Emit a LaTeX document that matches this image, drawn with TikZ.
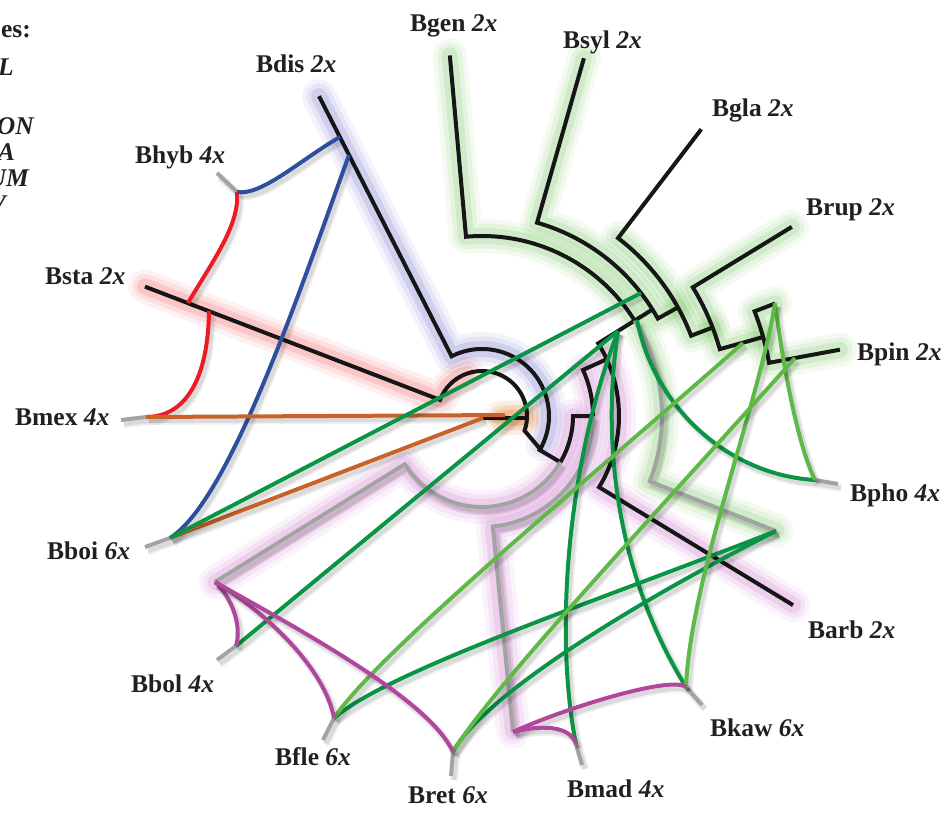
\documentclass[tikz,border=0pt]{standalone}
\usepackage{fontspec}
\setmainfont{Liberation Serif}
\usetikzlibrary{calc}
\definecolor{tblack}{HTML}{161616}
\definecolor{tgray}{HTML}{A3A3A3}
\definecolor{hred}{HTML}{EC1C24}
\definecolor{hblue}{HTML}{2D4F9E}
\definecolor{horange}{HTML}{C8622A}
\definecolor{hdgreen}{HTML}{0A9446}
\definecolor{hlgreen}{HTML}{5FB946}
\definecolor{hpurple}{HTML}{B0479C}
\definecolor{gwgreen}{HTML}{5DBB46}
\definecolor{gwblue}{HTML}{5A5AC0}
\definecolor{gwred}{HTML}{F03C3C}
\definecolor{gwpurple}{HTML}{C05AC0}
\definecolor{gworange}{HTML}{E8761E}
\definecolor{txt}{HTML}{231F20}
% soft halo behind a clade: three widening translucent strokes
\newcommand{\glowpath}[2]{%
  \foreach \gw/\go in {34/0.07,25/0.10,16/0.15}{%
    \draw[draw=#1, line width=\gw pt, draw opacity=\go, line cap=round, line join=round] #2;}}
\begin{document}
\begin{tikzpicture}[x=1pt,y=-1pt,
  shd/.style={preaction={draw=black, draw opacity=0.06, line width=8pt, transform canvas={shift={(3pt,-4pt)}}},
              preaction={draw=black, draw opacity=0.09, line width=4.5pt, transform canvas={shift={(3pt,-4pt)}}}},
  tree/.style={draw=tblack, line width=4pt},
  gline/.style={draw=tgray, line width=4pt, shd},
  stub/.style={draw=tgray, line width=4pt, shd},
  link/.style={line width=4pt, shd},
  lab/.style={text=txt, font=\fontsize{25.5}{30}\selectfont\bfseries, inner sep=0pt, anchor=base west},
  leg/.style={text=txt, font=\fontsize{25.5}{30}\selectfont\bfseries\itshape, inner sep=0pt, anchor=base east}]
\useasboundingbox (0,0) rectangle (949,812);

% ---------- hubs of the polyploid taxa and their label stubs ----------
\coordinate (hyb) at (237,192);  \coordinate (hybS) at (217,173);
\coordinate (mex) at (146,417);  \coordinate (mexS) at (121,420);
\coordinate (boi) at (170,538);  \coordinate (boiS) at (145,547);
\coordinate (bol) at (236,646);  \coordinate (bolS) at (217,660);
\coordinate (fle) at (334,718);  \coordinate (fleS) at (323,740);
\coordinate (ret) at (453,752);  \coordinate (retS) at (451,776);
\coordinate (mad) at (576,744);  \coordinate (madS) at (582,765);
\coordinate (kaw) at (686,687);  \coordinate (kawS) at (702,705);
\coordinate (pho) at (815,480);  \coordinate (phoS) at (838,484);
% origins of the genome links on the tree
\coordinate (red1) at (188,303);  \coordinate (red2) at (209,311);
\coordinate (blue1) at (340,137); \coordinate (blue2) at (349,155);
\coordinate (or1) at (505,415);   \coordinate (or2) at (483,418);
\coordinate (H1) at (641,293);    \coordinate (H2) at (618,331);
\coordinate (H3) at (637,320);    \coordinate (G) at (776,531);
\coordinate (L1) at (775,303);    \coordinate (L2) at (743,343);
\coordinate (L3) at (795,358);
\coordinate (P) at (215,582);     \coordinate (Q) at (513,732);

% ---------- circular tree, centred on the root ----------
\begin{scope}[shift={(482,416)}]
\glowpath{gwred}{(201:361) -- (201:45) arc[start angle=201, end angle=250, radius=45]}
\glowpath{gwblue}{(243:359) -- (243:67) arc[start angle=243, end angle=385, radius=67]}
\glowpath{gworange}{(5:18) -- (2:44)}
\glowpath{gworange}{(5:25) -- (2:40)}
\glowpath{gwgreen}{(-95.1:362) -- (-95.1:180) arc[start angle=-95.1, end angle=21.3, radius=180] -- (21.3:316)}
\glowpath{gwgreen}{(-74.1:372) -- (-74.1:201) arc[start angle=-74.1, end angle=-29, radius=201] -- (-29:224)}
\glowpath{gwgreen}{(-52.6:224) arc[start angle=-52.6, end angle=-21, radius=224] -- (-21:247)}
\glowpath{gwgreen}{(-31.4:363) -- (-31.4:247) arc[start angle=-31.4, end angle=-15.7, radius=247] -- (-15.7:292)}
\glowpath{gwgreen}{(-21:314) -- (-21:292) arc[start angle=-21, end angle=-10.5, radius=292] -- (-10.5:364)}
\glowpath{gwpurple}{(0:91) arc[start angle=0, end angle=148, radius=91] -- (148:314)}
\glowpath{gwpurple}{(-24.5:111) arc[start angle=-24.5, end angle=84.4, radius=111] -- (84.4:317)}
\glowpath{gwpurple}{(-24.5:137) arc[start angle=-24.5, end angle=31.3, radius=137] -- (31.3:364)}

% root arc with Bsta, then the Bdis node
\draw[tree] (201:361) -- (201:45) arc[start angle=201, end angle=379, radius=45] -- (30.5:70);
\draw[tree] (243:359) -- (243:67) arc[start angle=243, end angle=390.5, radius=67] -- (30.5:91);
\draw[tree] (1,2) -- (44,2);
% inner right-hand nodes
\draw[tree] (0:111) -- (0:91) arc[start angle=0, end angle=30.5, radius=91];
\draw[gline] (30.5:91) arc[start angle=30.5, end angle=148, radius=91] -- (P);
\draw[tree] (0:111) arc[start angle=0, end angle=-24.5, radius=111] -- (-24.5:137);
\draw[gline] (0:111) arc[start angle=0, end angle=84.4, radius=111] -- (Q);
\draw[tree] (31.3:364) -- (31.3:137) arc[start angle=31.3, end angle=-32, radius=137] -- (-32:201);
% upper clade
\draw[tree] (-95.1:362) -- (-95.1:180) arc[start angle=-95.1, end angle=-32, radius=180];
\draw[gline] (-32:180) arc[start angle=-32, end angle=21.3, radius=180] -- (G);
\draw[tree] (-74.1:372) -- (-74.1:201) arc[start angle=-74.1, end angle=-29, radius=201] -- (-29:224);
\draw[tree] (-52.6:361) -- (-52.6:224) arc[start angle=-52.6, end angle=-21, radius=224] -- (-21:247);
\draw[tree] (-31.4:363) -- (-31.4:247) arc[start angle=-31.4, end angle=-15.7, radius=247] -- (-15.7:292);
\draw[tree] (-21:314) -- (-21:292) arc[start angle=-21, end angle=-10.5, radius=292] -- (-10.5:364);
\end{scope}

% ---------- label stubs ----------
\foreach \h in {hyb,mex,boi,bol,fle,ret,mad,kaw,pho}{\draw[stub] (\h) -- (\h S);}

% ---------- genome links ----------
\draw[link, hred] (red1) .. controls (212,262) and (240,225) .. (hyb);
\draw[link, hred] (red2) .. controls (208,380) and (185,417) .. (mex);
\draw[link, hblue] (blue1) .. controls (300,160) and (262,196) .. (hyb);
\draw[link, hblue] (blue2) .. controls (300,290) and (230,500) .. (boi);
\draw[link, horange] (mex) -- (or1);
\draw[link, horange] (boi) -- (or2);
\draw[link, hdgreen] (boi) -- (H1);
\draw[link, hdgreen] (bol) -- (H2);
\draw[link, hdgreen] (H2) .. controls (565,470) and (555,640) .. (mad);
\draw[link, hdgreen] (H2) .. controls (600,450) and (620,580) .. (kaw);
\draw[link, hdgreen] (H3) .. controls (655,410) and (730,475) .. (pho);
\draw[link, hdgreen] (fle) .. controls (390,670) and (600,600) .. (G);
\draw[link, hdgreen] (ret) .. controls (480,700) and (620,610) .. (G);
\draw[link, hlgreen] (L1) .. controls (785,380) and (800,450) .. (pho);
\draw[link, hlgreen] (L1) .. controls (760,400) and (690,580) .. (kaw);
\draw[link, hlgreen] (fle) .. controls (380,650) and (600,470) .. (L2);
\draw[link, hlgreen] (ret) .. controls (490,690) and (650,520) .. (L3);
\draw[link, hpurple] (P) .. controls (232,598) and (242,625) .. (bol);
\draw[link, hpurple] (P) .. controls (270,615) and (325,670) .. (fle);
\draw[link, hpurple] (P) .. controls (300,630) and (430,700) .. (ret);
\draw[link, hpurple] (Q) .. controls (560,710) and (670,675) .. (kaw);
\draw[link, hpurple] (Q) .. controls (540,725) and (570,725) .. (mad);

% ---------- taxon labels ----------
\node[lab] (tgen) at (410,31) {Bgen \textit{2x}};
\node[lab] (tsyl) at (563,48) {Bsyl \textit{2x}};
\node[lab] (tgla) at (712,116) {Bgla \textit{2x}};
\node[lab] (tdis) at (256,72) {Bdis \textit{2x}};
\node[lab] (thyb) at (135,163) {Bhyb \textit{4x}};
\node[lab] (trup) at (806,215) {Brup \textit{2x}};
\node[lab] (tsta) at (45,284) {Bsta \textit{2x}};
\node[lab] (tpin) at (857,360) {Bpin \textit{2x}};
\node[lab] (tmex) at (15,425) {Bmex \textit{4x}};
\node[lab] (tpho) at (850,501) {Bpho \textit{4x}};
\node[lab] (tboi) at (47,559) {Bboi \textit{6x}};
\node[lab] (tarb) at (808,638) {Barb \textit{2x}};
\node[lab] (tbol) at (131,692) {Bbol \textit{4x}};
\node[lab] (tkaw) at (710,736) {Bkaw \textit{6x}};
\node[lab] (tfle) at (275,765) {Bfle \textit{6x}};
\node[lab] (tret) at (408,803) {Bret \textit{6x}};
\node[lab] (tmad) at (567,797) {Bmad \textit{4x}};

% ---------- legend fragments at the left edge ----------
\node[lab, anchor=base east] (lg1) at (31,37) {es:};
\node[leg] (lg2) at (14,75) {L};
\node[leg] (lg3) at (34,134) {ON};
\node[leg] (lg4) at (15,160) {A};
\node[leg] (lg5) at (29,186) {UM};
\node[leg] (lg6) at (6,212) {V};
\end{tikzpicture}
\end{document}
